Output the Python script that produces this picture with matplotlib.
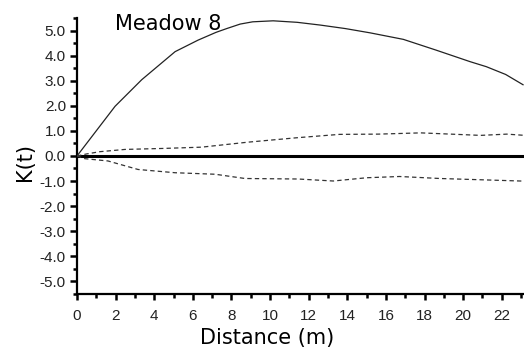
import matplotlib
matplotlib.use("Agg")
import matplotlib.pyplot as plt
from matplotlib.ticker import MultipleLocator, FormatStrFormatter

# Ripley's K(t) for Meadow 8: observed curve and confidence envelope
dist_obs = [0, 1.97, 3.35, 5.08, 6.27, 7.2, 7.75, 8.45, 9.1, 10.16, 11.4, 12.6, 13.9, 15.18, 16.9, 18.6, 20.36, 21.2, 22.2, 23.1]
k_obs = [0, 1.98, 3.04, 4.16, 4.62, 4.93, 5.08, 5.26, 5.35, 5.39, 5.33, 5.22, 5.08, 4.91, 4.65, 4.22, 3.76, 3.56, 3.25, 2.84]

dist_up = [0, 0.5, 1.19, 2.49, 4.5, 6.45, 8.86, 11.45, 13.6, 15.6, 17.8, 19.67, 20.9, 22.26, 23.2]
k_up = [0, 0.08, 0.17, 0.26, 0.3, 0.35, 0.55, 0.73, 0.86, 0.87, 0.92, 0.86, 0.82, 0.87, 0.82]

dist_lo = [0, 0.41, 1.6, 3.16, 5.08, 7.15, 8.7, 11.45, 13.27, 15.0, 16.7, 18.8, 20.9, 22.95, 23.2]
k_lo = [0, -0.11, -0.2, -0.54, -0.67, -0.73, -0.9, -0.92, -1.0, -0.87, -0.82, -0.9, -0.95, -1.0, -1.0]

fig = plt.figure(figsize=(5.24, 3.54), dpi=100)
ax = fig.add_axes([0.147, 0.17, 0.853, 0.779])

ax.axhline(0, color="black", lw=2.2, zorder=2)
ax.plot(dist_obs, k_obs, color="#222222", lw=0.9, zorder=3)
ax.plot(dist_up, k_up, color="#333333", lw=0.9, dashes=(3.5, 2.5), zorder=3)
ax.plot(dist_lo, k_lo, color="#333333", lw=0.9, dashes=(3.5, 2.5), zorder=3)

ax.set_xlim(0, 23.15)
ax.set_ylim(-5.5, 5.5)

for side in ("top", "right"):
    ax.spines[side].set_visible(False)
for side in ("left", "bottom"):
    ax.spines[side].set_linewidth(1.6)

ax.xaxis.set_major_locator(MultipleLocator(2))
ax.xaxis.set_minor_locator(MultipleLocator(1))
ax.yaxis.set_major_locator(MultipleLocator(1))
ax.yaxis.set_minor_locator(MultipleLocator(0.5))
ax.yaxis.set_major_formatter(FormatStrFormatter("%.1f"))

ax.tick_params(axis="both", which="major", direction="out", length=5, width=1.8, labelsize=11, pad=3)
ax.tick_params(axis="both", which="minor", direction="out", length=3, width=1.8)
ax.tick_params(axis="x", which="major", length=4, pad=7)
for lbl in ax.get_xticklabels() + ax.get_yticklabels():
    lbl.set_family("Liberation Sans")
    lbl.set_color("#222222")

fig.text(267 / 524, 1 - 338 / 354, "Distance (m)", fontsize=15, ha="center", va="center")
fig.text(25 / 524, 1 - 162 / 354, "K(t)", fontsize=15, rotation=90, ha="center", va="center")
ax.text(1.97, 5.28, "Meadow 8", fontsize=15, ha="left", va="center")

fig.savefig("out.png", dpi=100)
